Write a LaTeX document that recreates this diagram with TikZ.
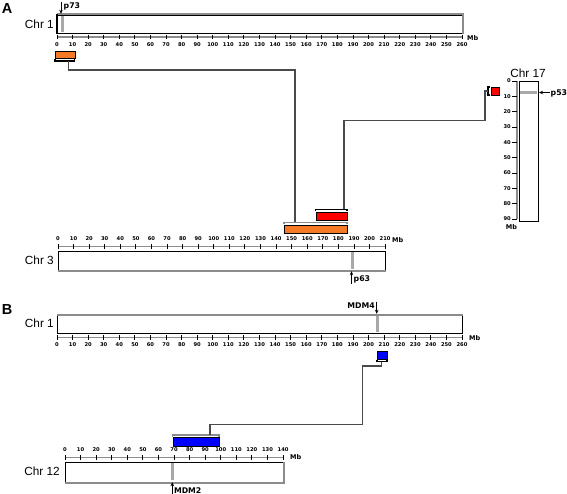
\documentclass[tikz,border=0pt]{standalone}
\usepackage{fontspec}
\setmainfont{Liberation Sans}
\newfontfamily\dejavu{DejaVu Sans}
\usetikzlibrary{arrows.meta}
\definecolor{segorange}{HTML}{F47A25}
\definecolor{segred}{HTML}{FF0000}
\definecolor{segblue}{HTML}{0000FF}
\definecolor{bandgray}{HTML}{A8A8A8}
\definecolor{edgegray}{HTML}{8C8C8C}
\definecolor{conngray}{HTML}{4A4A4A}
\tikzset{
 chrbox/.style={draw=black, line width=1.1pt, fill=white, inner sep=0pt, anchor=north west},
 shadeedge/.style={draw=edgegray, line width=2pt},
 band/.style={draw=bandgray, line width=3pt},
 axisl/.style={draw=edgegray, line width=1.6pt},
 tickl/.style={draw=black, line width=0.9pt},
 ticklab/.style={font=\dejavu\bfseries\fontsize{5.2}{6}\selectfont, inner sep=0pt},
 mblab/.style={font=\dejavu\bfseries\fontsize{6.5}{7}\selectfont, inner sep=0pt},
 genelab/.style={font=\dejavu\bfseries\fontsize{7.8}{8}\selectfont, inner sep=0pt},
 chrlab/.style={font=\fontsize{11.8}{13}\selectfont, inner sep=0pt},
 panellab/.style={font=\bfseries\fontsize{14.5}{16}\selectfont, inner sep=0pt},
 seg/.style={draw=black, line width=1pt, inner sep=0pt, anchor=north west},
 brk/.style={draw=black, line width=1.1pt},
 conn/.style={draw=conngray, line width=1.2pt},
 genearrow/.style={draw=black, line width=0.9pt, -{Stealth[length=4pt,width=3.5pt]}},
}
\newcommand\haxis[4]{%
  \draw[axisl] (#1,#2) -- ({#1+#3*1.5577},#2);
  \foreach \m in {0,10,...,#3}{
    \draw[tickl] ({#1+\m*1.5577},{#2-2.4}) -- ++(0,4.8);
    \node[ticklab] at ({#1+\m*1.5577},{#2+#4}) {\m};
  }%
}
\begin{document}
\begin{tikzpicture}[x=1pt,y=-1pt]
\useasboundingbox[fill=white] (0,0) rectangle (567,494);

% ---------------- Panel A ----------------
\node[panellab] (pa) at (7,8.5) {A};

% Chr 1 (A)
\node[chrlab, anchor=east] (c1alab) at (54,24) {Chr 1};
\node[chrbox, minimum width=405pt, minimum height=18.5pt] (chr1a) at (57,14.5) {};
\draw[band] (62,15.8) -- (62,31.8);
\draw[shadeedge] (chr1a.north west) -- (chr1a.north east) -- (chr1a.south east);
\draw[tickl, line width=1.1pt] (chr1a.north west) -- (chr1a.south west);
\haxis{57}{37}{260}{7.5}
\node[mblab, anchor=west] (mb1a) at (467,38) {Mb};
\coordinate (p73tail) at (61,2);
\coordinate (p73head) at (61,13.8);
\draw[genearrow] (p73tail) -- (p73head);
\node[genelab, anchor=west] (p73) at (63.5,6) {p73};

% orange segment on Chr 1
\node[seg, fill=segorange, minimum width=19.5pt, minimum height=7pt] (o1) at (55,51) {};
\draw[brk] (55,59.2) -- (55,61) -- (74.5,61) -- (74.5,59.2);
\coordinate (o1b) at (68.5,61);

% Chr 3
\node[chrlab, anchor=east] (c3lab) at (54,260.5) {Chr 3};
\node[chrbox, minimum width=327pt, minimum height=19pt] (chr3) at (58,251) {};
\draw[band] (352,252.4) -- (352,268.8);
\draw[shadeedge] (chr3.south west) -- (chr3.south east);
\haxis{58}{246.5}{210}{-8}
\node[mblab, anchor=west] (mb3) at (392,240.5) {Mb};
\coordinate (p63tail) at (351.5,284);
\coordinate (p63head) at (351.5,271.2);
\draw[genearrow] (p63tail) -- (p63head);
\node[genelab, anchor=west] (p63) at (353.5,279.5) {p63};

% segments on Chr 3
\node[seg, fill=segorange, minimum width=63pt, minimum height=8pt] (o3) at (284,225) {};
\draw[shadeedge, line width=1.5pt] (284,224.5) -- (284,222.5) -- (347,222.5) -- (347,224.5);
\coordinate (o3b) at (295,222.5);
\node[seg, fill=segred, minimum width=31.5pt, minimum height=7.5pt] (r3) at (315.5,212.5) {};
\draw[brk] (315.5,211.5) -- (315.5,209.5) -- (347,209.5) -- (347,211.5);
\coordinate (r3b) at (344,209.5);

% Chr 17
\node[chrlab] (c17lab) at (528,73) {Chr 17};
\node[chrbox, minimum width=19pt, minimum height=140pt] (chr17) at (519,81) {};
\draw[band] (520.4,92.5) -- (536.6,92.5);
\draw[axisl] (516.8,81) -- (516.8,219);
\foreach \m in {0,10,...,90}{
  \draw[tickl] (512,{81+\m*1.533}) -- (517,{81+\m*1.533});
  \node[ticklab, anchor=east] at (511,{81+\m*1.533}) {\m};
}
\node[mblab] (mb17) at (511.5,227.5) {Mb};
\coordinate (p53tail) at (549.5,92.5);
\coordinate (p53head) at (539,92.5);
\draw[genearrow] (p53tail) -- (p53head);
\node[genelab, anchor=west] (p53) at (550.5,93) {p53};

% red segment near Chr 17
\node[seg, fill=segred, minimum width=8pt, minimum height=8pt] (r17) at (491,87) {};
\draw[brk] (489.8,87) -- (488,87) -- (488,95) -- (489.8,95);
\coordinate (r17b) at (488,91);
\coordinate (k1) at (485,120.5);

% connectors A
\draw[conn] (o1b) -- ++(0,9) -| (o3b);
\draw[conn] (r3b) |- (k1) |- (r17b);

% ---------------- Panel B ----------------
\node[panellab] (pb) at (7,309.5) {B};

% Chr 1 (B)
\node[chrlab, anchor=east] (c1blab) at (54,323.5) {Chr 1};
\node[chrbox, minimum width=405pt, minimum height=18.8pt] (chr1b) at (57,314.5) {};
\draw[band] (377,315.8) -- (377,332);
\draw[shadeedge] (chr1b.north west) -- (chr1b.north east);
\haxis{57}{337.5}{260}{6.8}
\node[mblab, anchor=west] (mb1b) at (469,338.5) {Mb};
\coordinate (mdm4tail) at (376.7,301.5);
\coordinate (mdm4head) at (376.7,313.8);
\draw[genearrow] (mdm4tail) -- (mdm4head);
\node[genelab, anchor=east] (mdm4) at (375,306) {MDM4};

% blue segment on Chr 1
\node[seg, fill=segblue, minimum width=10pt, minimum height=8.3pt] (b1) at (377,351) {};
\draw[brk] (377,359.8) -- (377,361.5) -- (387,361.5) -- (387,359.8);
\coordinate (b1b) at (381.7,361.5);
\coordinate (k2) at (362.3,366);
\coordinate (k3) at (210,424.3);

% Chr 12
\node[chrlab, anchor=east] (c12lab) at (60,471.7) {Chr 12};
\node[chrbox, minimum width=218pt, minimum height=20pt] (chr12) at (64.5,461.7) {};
\draw[band] (172.3,463) -- (172.3,480.4);
\draw[shadeedge] (chr12.south west) -- (chr12.south east) -- (chr12.north east);
\haxis{65}{457.5}{140}{-8}
\node[mblab, anchor=west] (mb12) at (290,457.5) {Mb};
\coordinate (mdm2tail) at (172.3,494);
\coordinate (mdm2head) at (172.3,482.2);
\draw[genearrow] (mdm2tail) -- (mdm2head);
\node[genelab, anchor=west] (mdm2) at (173.8,490.5) {MDM2};

% blue segment on Chr 12
\node[seg, fill=segblue, minimum width=46.3pt, minimum height=8.4pt] (b12) at (172.7,437.3) {};
\draw[shadeedge, line width=1.5pt] (172.7,436.8) -- (172.7,435) -- (219,435) -- (219,436.8);
\coordinate (b12b) at (210,435);

% connector B
\draw[conn] (b1b) |- (k2) |- (k3) -- (b12b);
\end{tikzpicture}
\end{document}
